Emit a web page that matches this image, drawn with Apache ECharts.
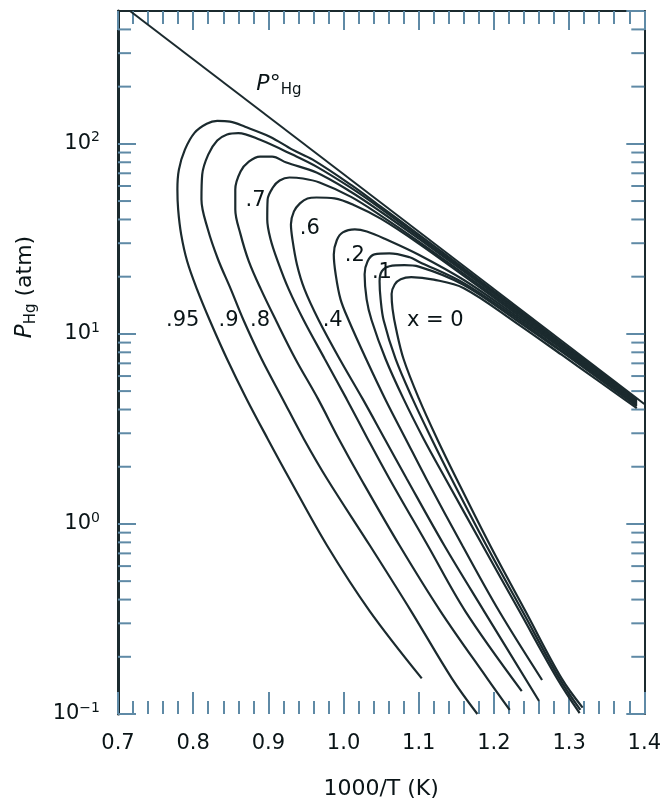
<!DOCTYPE html>
<html><head><meta charset="utf-8">
<script src="https://cdn.jsdelivr.net/npm/echarts@6/dist/echarts.min.js"></script>
<style>html,body{margin:0;padding:0;background:#fff}#c{width:664px;height:805px}</style>
</head><body><div id="c"></div>
<script>
// ---- data (x = 1000/T in 1/K, y = P_Hg in atm) ----
const pHgSat = [[0.716, 500], [1.40, 4.28]];
const curve095 = [[1.104,0.154],[1.035,0.347],[0.978,0.770],[0.928,1.73],[0.899,2.81],[0.871,4.55],[0.845,7.38],[0.822,11.8],[0.805,17.2],[0.792,24.1],[0.784,33.4],[0.780,45.2],[0.779,57.5],[0.781,73.2],[0.789,93.2],[0.802,114.5],[0.818,127.6],[0.832,132],[0.849,130.8],[0.869,123],[0.902,109],[0.932,93.2],[0.959,82.6],[1.01,60.8],[1.05,46.6],[1.10,33.3],[1.16,22.1],[1.23,13.66],[1.29,8.98],[1.34,6.38],[1.39,4.51]];
const curve09 = [[1.178,0.100],[1.144,0.154],[1.090,0.347],[1.035,0.770],[0.978,1.73],[0.947,2.81],[0.919,4.55],[0.891,7.38],[0.867,11.8],[0.850,17.2],[0.833,24.7],[0.8195,35.5],[0.811,50.9],[0.812,68.9],[0.820,87.8],[0.832,104],[0.845,112],[0.860,114],[0.889,105],[0.932,87.8],[0.964,75.9],[1.01,58.6],[1.05,45.5],[1.10,32.5],[1.16,21.7],[1.23,13.5],[1.29,8.87],[1.34,6.31],[1.39,4.48]];
const curve08 = [[1.221,0.105],[1.191,0.154],[1.129,0.347],[1.0745,0.770],[1.023,1.73],[0.9935,2.81],[0.966,4.55],[0.936,7.38],[0.910,11.8],[0.890,17.2],[0.874,24.1],[0.863,33.4],[0.856,45.2],[0.856,57.5],[0.863,71.5],[0.874,80.6],[0.889,85.7],[0.905,85.7],[0.924,79.7],[0.964,70.6],[1.01,55.8],[1.05,43.8],[1.10,31.7],[1.16,21.3],[1.23,13.3],[1.29,8.77],[1.34,6.23],[1.39,4.43]];
const curve07 = [[1.237,0.132],[1.162,0.347],[1.112,0.770],[1.061,1.73],[1.032,2.81],[1.004,4.55],[0.975,7.38],[0.947,11.8],[0.927,17.2],[0.9125,24.1],[0.903,31.4],[0.8985,40.0],[0.899,50.9],[0.906,58.9],[0.915,64.1],[0.928,66.5],[0.946,65.7],[0.968,62.6],[1.01,52.6],[1.05,41.8],[1.10,30.6],[1.16,20.7],[1.23,13.0],[1.29,8.67],[1.34,6.16],[1.39,4.38]];
const curve06 = [[1.260,0.117],[1.187,0.347],[1.134,0.770],[1.084,1.73],[1.0546,2.81],[1.0254,4.55],[0.9948,7.38],[0.967,11.8],[0.948,17.2],[0.938,23.2],[0.932,31.4],[0.930,37.7],[0.934,44.1],[0.942,48.6],[0.952,51.6],[0.964,52.2],[0.988,51.6],[1.015,47.4],[1.05,40.3],[1.10,29.9],[1.16,20.2],[1.23,12.7],[1.29,8.51],[1.34,6.08],[1.39,4.32]];
const curve04 = [[1.264,0.151],[1.207,0.347],[1.158,0.770],[1.110,1.73],[1.0825,2.81],[1.0553,4.55],[1.030,7.38],[1.0068,11.8],[0.996,15.2],[0.9895,20.6],[0.987,26.2],[0.991,31.1],[0.999,34.2],[1.015,35.5],[1.031,34.6],[1.057,31.4],[1.10,26.1],[1.16,19.2],[1.23,12.4],[1.29,8.36],[1.34,5.98],[1.39,4.27]];
const curve02 = [[1.314,0.101],[1.284,0.154],[1.234,0.347],[1.185,0.770],[1.1356,1.73],[1.1064,2.81],[1.0798,4.55],[1.0559,7.38],[1.0373,11.8],[1.0307,15.2],[1.028,20.6],[1.032,24.1],[1.041,26.2],[1.061,26.5],[1.088,25.3],[1.10,24.0],[1.16,18.5],[1.23,12.1],[1.29,8.16],[1.34,5.90],[1.39,4.22]];
const curve01 = [[1.315,0.105],[1.287,0.154],[1.238,0.347],[1.190,0.770],[1.1436,1.73],[1.117,2.81],[1.0918,4.55],[1.0692,7.38],[1.0533,11.8],[1.0493,15.2],[1.0479,18.9],[1.051,21.4],[1.061,22.7],[1.081,23.0],[1.10,22.6],[1.16,18.1],[1.23,11.8],[1.29,8.06],[1.34,5.80],[1.39,4.17]];
const curve0 = [[1.318,0.108],[1.290,0.154],[1.242,0.347],[1.195,0.770],[1.1502,1.73],[1.1243,2.81],[1.1004,4.55],[1.0798,7.38],[1.0699,10.6],[1.0652,13.5],[1.0639,16.2],[1.068,18.2],[1.076,19.4],[1.090,19.9],[1.12,19.3],[1.16,17.4],[1.23,11.4],[1.29,7.77],[1.34,5.62],[1.39,4.07]];
const curveNames = ['x=0.95','x=0.9','x=0.8','x=0.7','x=0.6','x=0.4','x=0.2','x=0.1','x=0'];
const curveData = [curve095, curve09, curve08, curve07, curve06, curve04, curve02, curve01, curve0];
// curve annotation labels: [x, P, text]
const curveLabels = [[0.786,11.8,'.95'],[0.847,11.8,'.9'],[0.889,11.8,'.8'],[0.883,50.4,'.7'],[0.955,35.9,'.6'],[0.9855,11.8,'.4'],[1.015,25.9,'.2'],[1.051,21.1,'.1'],[1.122,11.8,'x = 0']];
const satLabel = [0.914, 207];
// axis ticks
const xMin = 0.7, xMax = 1.4, xStep = 0.1;
const yMin = 0.1, yMax = 500;
const yMinorTicks = [0.2,0.3,0.4,0.5,0.6,0.7,0.8,0.9,2,3,4,5,6,7,8,9,20,30,40,50,60,70,80,90,200,300,400];

const INK = '#1b2a2e', TEXT = '#0a1417', TICK = '#5f8aa6', FONT = 'DejaVu Sans';
const chart = echarts.init(document.getElementById('c'), null, {renderer: 'canvas'});

function xAxisCfg(pos) {
  return {
    type: 'value', position: pos, min: xMin, max: xMax, interval: xStep,
    axisLine: {show: pos === 'top', lineStyle: {color: INK, width: 2}},
    axisTick: {show: true, inside: true, length: pos === 'top' ? 19 : 22, lineStyle: {color: TICK, width: 2}},
    minorTick: {show: true, splitNumber: 5, length: 13, lineStyle: {color: TICK, width: 2}},
    splitLine: {show: false}, minorSplitLine: {show: false},
    axisLabel: {show: pos === 'bottom', margin: 19, color: TEXT, fontFamily: FONT, fontSize: 21,
      formatter: v => v.toFixed(1)},
    name: pos === 'bottom' ? '1000/T (K)' : '', nameLocation: 'middle', nameGap: 64,
    nameTextStyle: {color: TEXT, fontFamily: FONT, fontSize: 22}
  };
}
function yFmt(v) {
  const e = Math.round(Math.log10(v));
  const p = Math.pow(10, e);
  if (Math.abs(v - p) > 1e-6 * p) return '';
  return '{b|10}{s|' + (e < 0 ? '\u2212' + (-e) : e) + '}';
}
function yAxisCfg(pos) {
  return {
    type: 'log', logBase: 10, position: pos, min: yMin, max: yMax,
    axisLine: {show: true, lineStyle: {color: INK, width: pos === 'left' ? 3 : 2}},
    axisTick: {show: true, inside: true, length: 18, lineStyle: {color: TICK, width: 2}},
    splitLine: {show: false}, minorTick: {show: false},
    axisLabel: {show: pos === 'left', margin: 18, formatter: yFmt, showMaxLabel: false,
      rich: {b: {fontFamily: FONT, fontSize: 21, color: TEXT, lineHeight: 26},
             s: {fontFamily: FONT, fontSize: 14, color: TEXT, lineHeight: 14, verticalAlign: 'top'}}}
  };
}

const series = [];
series.push({type: 'line', name: 'P°Hg', data: pHgSat, symbol: 'none', silent: true,
  lineStyle: {color: INK, width: 2}, z: 3});
curveData.forEach((d, i) => series.push({type: 'line', name: curveNames[i], data: d, symbol: 'none',
  smooth: 0.35, silent: true, lineStyle: {color: INK, width: 2.2}, z: 3}));
series.push({type: 'custom', name: 'minor', coordinateSystem: 'cartesian2d', silent: true, clip: false,
  data: yMinorTicks.map(v => [xMin, v]),
  renderItem: (params, api) => {
    const v = api.value(1);
    const l = api.coord([xMin, v]), r = api.coord([xMax, v]);
    const st = {stroke: TICK, lineWidth: 2};
    return {type: 'group', children: [
      {type: 'line', shape: {x1: l[0], y1: l[1], x2: l[0] + 13, y2: l[1]}, style: st},
      {type: 'line', shape: {x1: r[0] - 13, y1: r[1], x2: r[0], y2: r[1]}, style: st}
    ]};
  }, z: 2});
const labelData = curveLabels.map(c => ({value: [c[0], c[1]], name: c[2]}));
labelData.push({value: satLabel, name: 'sat', label: {formatter: '{p|P°}{h|Hg}',
  rich: {p: {fontFamily: FONT, fontSize: 22, fontStyle: 'italic', color: TEXT, lineHeight: 28},
         h: {fontFamily: FONT, fontSize: 15, color: TEXT, lineHeight: 15, verticalAlign: 'bottom'}}}});
series.push({type: 'scatter', name: 'labels', data: labelData, symbolSize: 1, silent: true,
  itemStyle: {color: 'rgba(0,0,0,0)'},
  label: {show: true, position: 'inside', formatter: p => p.name, color: TEXT, opacity: 1,
    textBorderWidth: 0, fontFamily: FONT, fontSize: 21},
  z: 5});

chart.setOption({
  animation: false,
  backgroundColor: '#fff',
  grid: {left: 118, right: 19, top: 11, bottom: 89, containLabel: false},
  xAxis: [xAxisCfg('bottom'), xAxisCfg('top')],
  yAxis: [yAxisCfg('left'), yAxisCfg('right')],
  series: series,
  graphic: [{type: 'text', x: 25, y: 287, rotation: Math.PI / 2,
    style: {text: '{p|P}{h|Hg} (atm)', align: 'center', verticalAlign: 'middle',
      fontFamily: FONT, fontSize: 22, fill: TEXT,
      rich: {p: {fontFamily: FONT, fontSize: 23, fontStyle: 'italic', fill: TEXT, lineHeight: 28},
             h: {fontFamily: FONT, fontSize: 15, fill: TEXT, lineHeight: 15, verticalAlign: 'bottom'}}}}]
});
</script></body></html>
